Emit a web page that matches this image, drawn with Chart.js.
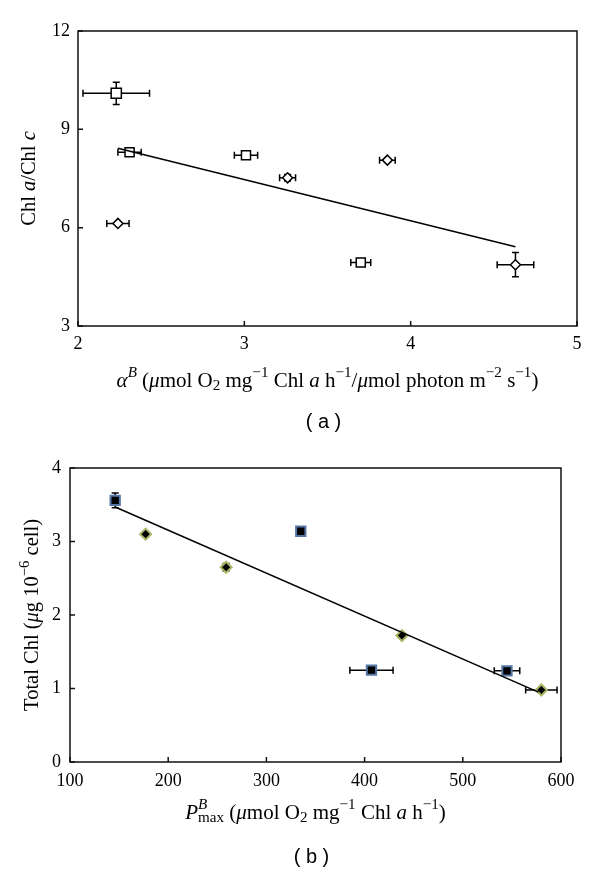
<!DOCTYPE html>
<html>
<head>
<meta charset="utf-8">
<script src="https://cdn.jsdelivr.net/npm/chart.js@4.4.1/dist/chart.umd.min.js"></script>
<style>
  body { margin: 0; background: #fff; }
  canvas { display: block; }
</style>
</head>
<body>
<canvas id="chartA" width="600" height="437"></canvas>
<canvas id="chartB" width="600" height="437"></canvas>
<script>
// Panel (a): Chl a/Chl c vs alpha B
const aSqX = [2.23, 2.31, 3.01, 3.70];
const aSqY = [10.10, 8.30, 8.21, 4.94];
const aSqXErr = [0.20, 0.07, 0.07, 0.06];
const aSqYErr = [0.34, 0.05, 0.04, 0.10];
const aDiX = [2.24, 3.26, 3.86, 4.63];
const aDiY = [6.13, 7.52, 8.06, 4.87];
const aDiXErr = [0.067, 0.048, 0.047, 0.11];
const aDiYErr = [0.03, 0.10, 0.03, 0.37];
const aFitX = [2.24, 4.63];
const aFitY = [8.42, 5.42];

// Panel (b): Total Chl vs Pmax B
const bSqX = [146, 335, 407, 545];
const bSqY = [3.56, 3.14, 1.25, 1.24];
const bSqXErr = [3, 3, 22, 13];
const bSqYErr = [0.10, 0.05, 0.03, 0.03];
const bDiX = [177, 259, 438, 580];
const bDiY = [3.10, 2.65, 1.72, 0.98];
const bDiXErr = [2, 3, 2, 16];
const bDiYErr = [0.03, 0.05, 0.03, 0.02];
const bFitX = [146, 577];
const bFitY = [3.47, 0.95];

// Axis texts, as [text, flags]: i = italic, ^ = superscript, _ = subscript, s = stacked (no advance)
const aXTitle = [['α', 'i'], ['B', '^i'], [' (', ''], ['μ', 'i'], ['mol O', ''], ['2', '_'], [' mg', ''], ['−1', '^'],
  [' Chl ', ''], ['a', 'i'], [' h', ''], ['−1', '^'], ['/', ''], ['μ', 'i'], ['mol photon m', ''], ['−2', '^'],
  [' s', ''], ['−1', '^'], [')', '']];
const aYTitle = [['Chl ', ''], ['a', 'i'], ['/Chl ', ''], ['c', 'i']];
const bXTitle = [['P', 'i'], ['B', '^is'], ['max', '_'], [' (', ''], ['μ', 'i'], ['mol O', ''], ['2', '_'], [' mg', ''], ['−1', '^'],
  [' Chl ', ''], ['a', 'i'], [' h', ''], ['−1', '^'], [')', '']];
const bYTitle = [['Total Chl (', ''], ['μ', 'i'], ['g 10', ''], ['−6', '^'], [' cell)', '']];

const SERIF = '"Liberation Serif", "Times New Roman", serif';

function zip(xs, ys) {
    return xs.map((x, i) => ({ x: x, y: ys[i] }));
}

// Draw a line of mixed-style text centred at cx, cy
function drawRich(ctx, segs, cx, cy, size, rotate) {
    ctx.save();
    ctx.translate(cx, cy);
    if (rotate) ctx.rotate(-Math.PI / 2);
    let total = 0;
    let held = 0;
    const parts = [];
    segs.forEach(([t, f]) => {
        const small = f.includes('^') || f.includes('_');
        const fs = small ? size * 0.72 : size;
        const font = (f.includes('i') ? 'italic ' : '') + fs + 'px ' + SERIF;
        ctx.font = font;
        const w = ctx.measureText(t).width;
        const dy = f.includes('^') ? -size * 0.36 : (f.includes('_') ? size * 0.24 : 0);
        parts.push({ t, font, x: total, dy });
        if (f.includes('s')) {
            held = w;
        } else {
            total += Math.max(w, held);
            held = 0;
        }
    });
    ctx.fillStyle = '#000';
    ctx.textBaseline = 'middle';
    ctx.textAlign = 'left';
    parts.forEach(p => {
        ctx.font = p.font;
        ctx.fillText(p.t, p.x - total / 2, p.dy);
    });
    ctx.restore();
}

// Box round the plot area, inward tick marks, titles and panel letter
const framePlugin = {
    id: 'frame',
    afterDraw(chart, args, opts) {
        const ctx = chart.ctx;
        const a = chart.chartArea;
        ctx.save();
        ctx.strokeStyle = '#111';
        ctx.lineWidth = 1.5;
        ctx.strokeRect(a.left, a.top, a.right - a.left, a.bottom - a.top);
        ctx.beginPath();
        chart.scales.x.ticks.forEach(t => {
            const px = chart.scales.x.getPixelForValue(t.value);
            ctx.moveTo(px, a.bottom);
            ctx.lineTo(px, a.bottom - 5);
        });
        chart.scales.y.ticks.forEach(t => {
            const py = chart.scales.y.getPixelForValue(t.value);
            ctx.moveTo(a.left, py);
            ctx.lineTo(a.left + 5, py);
        });
        ctx.stroke();
        ctx.restore();

        const midX = (a.left + a.right) / 2;
        const midY = (a.top + a.bottom) / 2;
        drawRich(ctx, opts.xTitle, midX, a.bottom + opts.xTitleGap, 21, false);
        drawRich(ctx, opts.yTitle, opts.yTitleX, midY, 20.5, true);

        ctx.save();
        ctx.font = '20px "Liberation Sans", Arial, sans-serif';
        ctx.fillStyle = '#000';
        ctx.textAlign = 'center';
        ctx.textBaseline = 'middle';
        ctx.fillText(opts.caption, midX - 4, a.bottom + opts.captionGap);
        ctx.restore();
    }
};

// Error bars with caps, taken from dataset.xErr / dataset.yErr
const errorBarPlugin = {
    id: 'errorBars',
    beforeDatasetsDraw(chart) {
        const ctx = chart.ctx;
        const xs = chart.scales.x;
        const ys = chart.scales.y;
        ctx.save();
        ctx.strokeStyle = '#000';
        ctx.lineWidth = 1.5;
        chart.data.datasets.forEach(ds => {
            if (!ds.xErr) return;
            ds.data.forEach((d, i) => {
                const px = xs.getPixelForValue(d.x);
                const py = ys.getPixelForValue(d.y);
                const x0 = xs.getPixelForValue(d.x - ds.xErr[i]);
                const x1 = xs.getPixelForValue(d.x + ds.xErr[i]);
                const y0 = ys.getPixelForValue(d.y - ds.yErr[i]);
                const y1 = ys.getPixelForValue(d.y + ds.yErr[i]);
                ctx.beginPath();
                ctx.moveTo(x0, py); ctx.lineTo(x1, py);
                ctx.moveTo(x0, py - 3.5); ctx.lineTo(x0, py + 3.5);
                ctx.moveTo(x1, py - 3.5); ctx.lineTo(x1, py + 3.5);
                ctx.moveTo(px, y0); ctx.lineTo(px, y1);
                ctx.moveTo(px - 3.5, y0); ctx.lineTo(px + 3.5, y0);
                ctx.moveTo(px - 3.5, y1); ctx.lineTo(px + 3.5, y1);
                ctx.stroke();
            });
        });
        ctx.restore();
    }
};

function axisOptions(min, max, step, padding, size, isX) {
    return {
        type: 'linear',
        min: min,
        max: max,
        ticks: {
            stepSize: step,
            padding: padding,
            color: '#000',
            font: { family: SERIF, size: 18 }
        },
        grid: { display: false, drawTicks: false },
        border: { display: false },
        afterFit(scale) {
            if (isX) scale.height = size; else scale.width = size;
        }
    };
}

function makeChart(id, sets, xAxis, yAxis, padRight, frame) {
    new Chart(document.getElementById(id), {
        type: 'scatter',
        data: { datasets: sets },
        options: {
            responsive: false,
            animation: false,
            devicePixelRatio: 1,
            layout: { padding: { top: 31, right: padRight, left: 0, bottom: 0 } },
            scales: { x: xAxis, y: yAxis },
            plugins: {
                legend: { display: false },
                tooltip: { enabled: false },
                frame: frame
            }
        },
        plugins: [errorBarPlugin, framePlugin]
    });
}

// Panel (a)
makeChart('chartA', [
    {
        type: 'line', data: zip(aFitX, aFitY), borderColor: '#000', borderWidth: 1.5,
        pointRadius: 0, fill: false
    },
    {
        data: zip(aSqX, aSqY), xErr: aSqXErr, yErr: aSqYErr, pointStyle: 'rect',
        pointRadius: [7.2, 6.4, 6.4, 6.4], backgroundColor: '#fff', borderColor: '#000', borderWidth: 1.5
    },
    {
        data: zip(aDiX, aDiY), xErr: aDiXErr, yErr: aDiYErr, pointStyle: 'rectRot',
        pointRadius: 5, backgroundColor: '#fff', borderColor: '#000', borderWidth: 1.5
    }
], axisOptions(2, 5, 1, 7, 111, true), axisOptions(3, 12, 3, 8, 78, false), 23,
    { xTitle: aXTitle, yTitle: aYTitle, xTitleGap: 55, yTitleX: 30, caption: '( a )', captionGap: 96 });

// Panel (b)
makeChart('chartB', [
    {
        type: 'line', data: zip(bFitX, bFitY), borderColor: '#000', borderWidth: 1.5,
        pointRadius: 0, fill: false
    },
    {
        data: zip(bSqX, bSqY), xErr: bSqXErr, yErr: bSqYErr, pointStyle: 'rect',
        pointRadius: 6.6, backgroundColor: '#000', borderColor: '#5677a6', borderWidth: 2
    },
    {
        data: zip(bDiX, bDiY), xErr: bDiXErr, yErr: bDiYErr, pointStyle: 'rectRot',
        pointRadius: 5.5, backgroundColor: '#000', borderColor: '#a9b665', borderWidth: 2
    }
], axisOptions(100, 600, 100, 8, 112, true), axisOptions(0, 4, 1, 9, 70, false), 39,
    { xTitle: bXTitle, yTitle: bYTitle, xTitleGap: 51, yTitleX: 33, caption: '( b )', captionGap: 95 });
</script>
</body>
</html>
